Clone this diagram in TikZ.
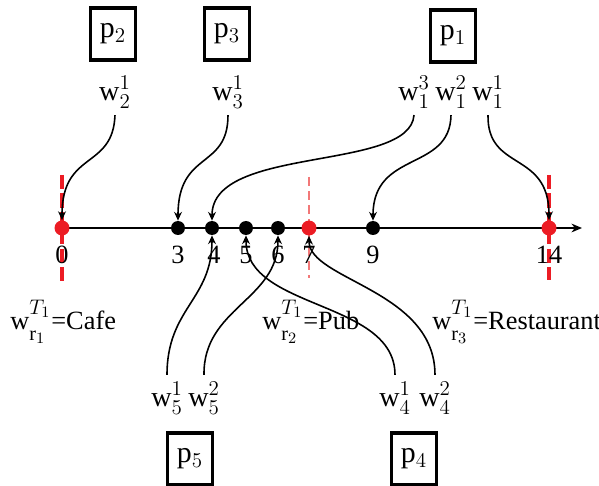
\documentclass[tikz,border=0pt]{standalone}
\usepackage{fontspec}
\setmainfont{Liberation Serif}
\usetikzlibrary{arrows.meta}
\DeclareMathSizes{15}{15}{11.5}{9}
\DeclareMathSizes{16}{16}{12.5}{10}
\DeclareMathSizes{17}{17}{13}{10}
\definecolor{mkred}{RGB}{236,28,36}
\definecolor{mkpink}{RGB}{242,120,120}
% region weight symbol with well separated scripts
\newcommand{\regw}[1]{$\mathrm{w}^{\raisebox{3pt}{$\scriptstyle T_1$}}_{\raisebox{-3pt}{$\scriptstyle\mathrm{r}_{#1}$}}$}
\begin{document}
\begin{tikzpicture}[x=0.02cm,y=-0.02cm,
  num/.style={font=\fontsize{15}{18}\selectfont, inner sep=0pt},
  tag/.style={font=\fontsize{15}{18}\selectfont, inner sep=0pt},
  wl/.style={font=\fontsize{16}{19}\selectfont, inner sep=0pt, outer sep=4pt},
  pbox/.style={draw, line width=1.8pt, minimum width=0.9cm, minimum height=1.04cm,
    inner sep=0pt, font=\fontsize{17}{20}\selectfont},
  dotk/.style={circle, fill=black, minimum size=0.28cm, inner sep=0pt},
  dotr/.style={circle, fill=mkred, minimum size=0.3cm, inner sep=0pt},
  cut/.style={mkred, line width=1.9pt, dash pattern=on 8pt off 2.5pt},
  cutlight/.style={mkpink, line width=0.9pt, dash pattern=on 5pt off 3pt},
  link/.style={line width=0.9pt, -{Stealth[length=5pt,width=4.5pt]}}]
\useasboundingbox (0,0) rectangle (599,486);

% time cuts
\coordinate (c0a) at (62,175);  \coordinate (c0b) at (62,284);
\coordinate (c7a) at (309,177); \coordinate (c7b) at (309,278);
\coordinate (c14a) at (549,175); \coordinate (c14b) at (549,280);
\draw[cut] (c0a) -- (c0b);
\draw[cutlight] (c7a) -- (c7b);
\draw[cut] (c14a) -- (c14b);

% time axis
\coordinate (axisend) at (582,228);
\coordinate (axisstart) at (62,228);
\draw[line width=0.9pt, -{Stealth[length=6pt,width=5pt]}] (axisstart) -- (axisend);

% points on the axis
\node[dotr] (d0) at (62,228) {};
\node[dotk] (d3) at (178,228) {};
\node[dotk] (d4) at (212,228) {};
\node[dotk] (d5) at (246,228) {};
\node[dotk] (d6) at (278,228) {};
\node[dotr] (d7) at (309,228) {};
\node[dotk] (d9) at (373,228) {};
\node[dotr] (d14) at (549,228) {};

\node[num] (n0) at (62,255) {0};
\node[num] (n3) at (178,255) {3};
\node[num] (n4) at (214,255) {4};
\node[num] (n5) at (246,255) {5};
\node[num] (n6) at (278,255) {6};
\node[num] (n7) at (309,255) {7};
\node[num] (n9) at (373,255) {9};
\node[num] (n14) at (549,255) {14};

% region tags
\node[tag, anchor=west] (r1) at (10,322) {\regw{1}=Cafe};
\node[tag, anchor=west] (r2) at (262,322) {\regw{2}=Pub};
\node[tag, anchor=west] (r3) at (432,322) {\regw{3}=Restaurant};

% persons
\node[pbox] (p2) at (113,34) {$\mathrm{p}_2$};
\node[pbox] (p3) at (227,34) {$\mathrm{p}_3$};
\node[pbox] (p1) at (453,36) {$\mathrm{p}_1$};
\node[pbox] (p5) at (190,459) {$\mathrm{p}_5$};
\node[pbox] (p4) at (414,459) {$\mathrm{p}_4$};

% words
\node[wl] (w21) at (115,92) {$\mathrm{w}_2^1$};
\node[wl] (w31) at (228,92) {$\mathrm{w}_3^1$};
\node[wl] (w13) at (414,92) {$\mathrm{w}_1^3$};
\node[wl] (w12) at (451,92) {$\mathrm{w}_1^2$};
\node[wl] (w11) at (488,92) {$\mathrm{w}_1^1$};
\node[wl] (w51) at (167,398) {$\mathrm{w}_5^1$};
\node[wl] (w52) at (204,398) {$\mathrm{w}_5^2$};
\node[wl] (w41) at (395,398) {$\mathrm{w}_4^1$};
\node[wl] (w42) at (435,398) {$\mathrm{w}_4^2$};

% words attached to time points
\draw[link] (w21.south) .. controls (113,170) and (62,150) .. (d0.north);
\draw[link] (w31.south) .. controls (228,170) and (178,150) .. (d3.north);
\draw[link] (w13.south) .. controls (410,172) and (212,145) .. (d4.north);
\draw[link] (w12.south) .. controls (450,172) and (373,150) .. (d9.north);
\draw[link] (w11.south) .. controls (487,172) and (549,150) .. (d14.north);
\draw[link] (w51.north) .. controls (167,308) and (212,300) .. (d4.south);
\draw[link] (w52.north) .. controls (203,308) and (278,300) .. (d6.south);
\draw[link] (w41.north) .. controls (395,300) and (246,310) .. (d5.south);
\draw[link] (w42.north) .. controls (435,290) and (309,280) .. (d7.south);
\end{tikzpicture}
\end{document}
